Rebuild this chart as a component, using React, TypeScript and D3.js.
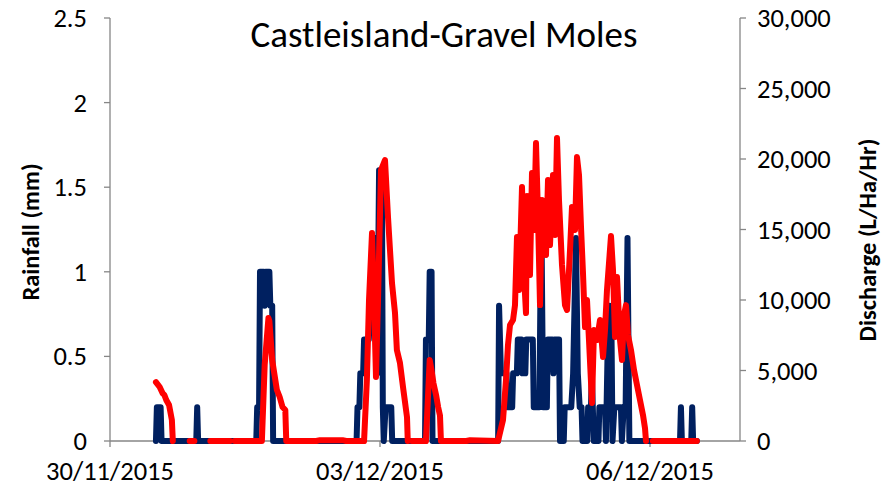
import React from 'react';
import * as d3 from 'd3';

// ---------- data ----------
const chartTitle = 'Castleisland-Gravel Moles';
const leftAxisTitle = 'Rainfall (mm)';
const rightAxisTitle = 'Discharge (L/Ha/Hr)';
const startDay = '30/11/2015';
const endDay = '07/12/2015';
const dateTickLabels = ['30/11/2015', '03/12/2015', '06/12/2015'];
const rainTicks = [0, 0.5, 1, 1.5, 2, 2.5];
const dischargeTicks = [0, 5000, 10000, 15000, 20000, 25000, 30000];

// hours after 30/11/2015 00:00
const rainHours = [
  12.25, 12.5, 13.5, 13.75, 23, 23.25, 23.5,
  39, 39.25, 39.75, 40, 41, 41.25, 41.5, 42.5, 42.75, 43.25, 43.5,
  65.75, 66, 66.5, 66.75, 67.5, 67.75, 69, 69.5, 70.75, 71.25, 71.75, 72.5, 72.75, 73, 73.5, 75, 75.25,
  84, 84.25, 85, 85.25, 85.75, 86,
  103.5, 103.75, 104.25, 105.75, 106, 107.25, 107.5, 108.5, 108.75, 109.75, 110, 110.75, 111, 112.75, 113,
  114.5, 115, 115.5, 116.5, 116.75, 118, 118.25, 118.5, 119.75, 120, 121, 121.25, 123, 123.5, 124.25,
  124.75, 125.25, 125.75, 126, 127.25, 127.5, 128.25, 128.5, 128.75, 129, 130.25, 130.5, 132, 132.25,
  132.75, 133.25, 133.75, 134, 134.5, 136.25, 136.5, 137, 137.5, 138, 138.5,
  152, 152.25, 152.5, 155, 155.25, 155.5, 156.5,
];
const rainMm = [
  0, 0.2, 0.2, 0, 0, 0.2, 0,
  0, 0.2, 0.2, 1.0, 1.0, 0.8, 1.0, 1.0, 0.8, 0.8, 0,
  0, 0.2, 0.2, 0.4, 0.4, 0.6, 0.6, 0.8, 1.2, 0.4, 1.6, 1.6, 0.2, 0, 0.2, 0.2, 0,
  0, 0.6, 0.6, 1.0, 1.0, 0,
  0, 0.8, 0.4, 0.4, 0.2, 0.2, 0.4, 0.4, 0.6, 0.6, 0.4, 0.4, 0.6, 0.6, 0.2,
  0.2, 1.4, 0.2, 0.2, 0.6, 0.6, 0.4, 0.6, 0.6, 0, 0, 0.2, 0.2, 0.4, 1.2,
  0.4, 0.2, 0.2, 0, 0, 0.2, 0.2, 0.4, 0.2, 0, 0, 0.2, 0.2, 0,
  0.6, 0.8, 0.6, 0, 0.2, 0.2, 0, 0.2, 0.2, 1.2, 0,
  0, 0.2, 0, 0, 0.2, 0, 0,
];

// null = no reading
const dischargeHours = [
  12.25, 13.25, 14, 14.5, 15, 15.75, 16.5, 16.75, 17,
  21.25, 22.5, 22.75, 26.75, 32, 32.25, 33.25,
  40.5, 41.25, 42.25, 42.5, 43.25, 44.5, 45.25, 46, 46.75, 47,
  55, 56, 62, 63, 67.75,
  68.5, 69.07, 69.87, 70.4, 70.93, 71.47, 72.27, 73.33, 74.13, 75.2, 76, 76.5, 77.33, 78.13, 79.2, 79.4, 79.75,
  80.5, 83.75, 84.25, 85.25, 85.75, 86.25, 87, 87.5, 88, 88.25,
  95, 96, 103.47,
  104.8, 105.6, 106.13, 106.67, 107.47, 108, 108.53, 109.07, 109.87, 110.4, 110.93, 111.2, 112, 112.53,
  113.07, 113.6, 114.13, 114.67, 115.2, 115.73, 116.27, 116.8, 117.33, 118.13, 118.67, 119.2, 119.73,
  120.53, 121.33, 121.87, 122.67, 123.2, 124, 124.53, 125.07, 125.6, 126.13, 126.67, 127.2, 127.73,
  128.53, 129.07, 129.87, 130.67, 131.47, 132, 132.53, 133.6, 134.13, 134.67, 135.2, 136, 136.53,
  137.07, 137.6, 138.13, 138.93, 139.73, 140.53, 141.33, 142.13, 142.67, 142.93, 143.25,
  144.75, 156.5,
];
const dischargeLHaHr = [
  4180, 3830, 3400, 3260, 2910, 2550, 1490, 0, null,
  0, 0, null, 0, 0, null, 0,
  0, 5400, 8720, 8500, 5740, 3620, 3120, 2410, 2200, 0,
  0, 60, 60, 0, 0,
  4330, 10000, 14750, 10000, 4540, 10000, 19220, 19930, 15900, 11200, 9080, 6450, 5530, 3830, 1700, 0, null,
  0, 0, 0, 5740, 5000, 4110, 3200, 2410, 1800, 0,
  0, 50, 0,
  1490, 4330, 6810, 8230, 8580, 9640, 14470, 10710, 18010, 11770, 9080, 17380, 11770, 19010,
  14960, 21130, 16030, 9640, 17090, 14960, 13190, 18510, 13900, 18860, 14610, 21490, 17090,
  12500, 9640, 9290, 13540, 16600, 14960, 20140, 18860, 15180, 11910, 8080, 10000, 7160,
  2700, 7870, 7160, 8580, 5960, 7870, 10710, 14540, 12130, 7380, 11630, 7160, 5740,
  8940, 9640, 7520, 6450, 5040, 3970, 2910, 1840, 900, 0, null,
  0, 0,
];

// ---------- layout ----------
const W = 888;
const H = 492;
const plot = { left: 110, right: 740, top: 18, bottom: 441 };
const axisColor = '#868686';
const rainColor = '#002060';
const dischargeColor = '#FF0000';
const fontFamily = 'Carlito, Calibri, Lato, sans-serif';

const parseDay = d3.timeParse('%d/%m/%Y');

export default function App() {
  const start = parseDay(startDay) as Date;
  const end = parseDay(endDay) as Date;
  const toDate = (h: number) => new Date(start.getTime() + h * 3600 * 1000);

  const x = d3.scaleTime().domain([start, end]).range([plot.left, plot.right]);
  const yRain = d3.scaleLinear().domain([0, 2.5]).range([plot.bottom, plot.top]);
  const yQ = d3.scaleLinear().domain([0, 30000]).range([plot.bottom, plot.top]);

  const rainPts = rainHours.map((h, i) => ({ t: toDate(h), v: rainMm[i] as number }));
  const qPts = dischargeHours.map((h, i) => ({ t: toDate(h), v: dischargeLHaHr[i] as number | null }));

  const rainLine = d3
    .line<{ t: Date; v: number }>()
    .x((d) => x(d.t))
    .y((d) => yRain(d.v));
  const qLine = d3
    .line<{ t: Date; v: number | null }>()
    .defined((d) => d.v != null)
    .x((d) => x(d.t))
    .y((d) => yQ(d.v as number));

  const dateTicks = dateTickLabels.map((s) => parseDay(s) as Date);
  const fmtQ = d3.format(',');

  return (
    <svg
      width={W}
      height={H}
      style={{ position: 'absolute', left: 0, top: 0, background: '#fff' }}
      fontFamily={fontFamily}
    >
      <rect x={0} y={0} width={W} height={H} fill="#fff" />
      {/* axes */}
      <g stroke={axisColor} strokeWidth={1.3} fill="none">
        <line x1={plot.left} x2={plot.left} y1={plot.top} y2={plot.bottom} />
        <line x1={plot.right} x2={plot.right} y1={plot.top} y2={plot.bottom} />
        <line x1={plot.left} x2={plot.right} y1={plot.bottom} y2={plot.bottom} />
        {rainTicks.map((t) => (
          <line key={'lt' + t} x1={plot.left - 6} x2={plot.left} y1={yRain(t)} y2={yRain(t)} />
        ))}
        {dischargeTicks.map((t) => (
          <line key={'rt' + t} x1={plot.right} x2={plot.right + 6} y1={yQ(t)} y2={yQ(t)} />
        ))}
        {dateTicks.map((d, i) => (
          <line key={'xt' + i} x1={x(d)} x2={x(d)} y1={plot.bottom} y2={plot.bottom + 6} />
        ))}
      </g>

      {/* series */}
      <path
        d={rainLine(rainPts) || ''}
        fill="none"
        stroke={rainColor}
        strokeWidth={6}
        strokeLinejoin="round"
        strokeLinecap="round"
      />
      <path
        d={qLine(qPts) || ''}
        fill="none"
        stroke={dischargeColor}
        strokeWidth={6}
        strokeLinejoin="round"
        strokeLinecap="round"
      />

      {/* tick labels */}
      <g fontSize={26.5} fill="#000">
        {rainTicks.map((t) => (
          <text key={'ll' + t} x={87} y={yRain(t) + 9} textAnchor="end">
            {String(t)}
          </text>
        ))}
        {dischargeTicks.map((t) => (
          <text key={'rl' + t} x={757} y={yQ(t) + 9} textAnchor="start">
            {fmtQ(t)}
          </text>
        ))}
        {dateTicks.map((d, i) => (
          <text key={'xl' + i} x={x(d)} y={480} textAnchor="middle">
            {dateTickLabels[i]}
          </text>
        ))}
      </g>

      {/* titles */}
      <text x={444} y={47} textAnchor="middle" fontSize={37} fill="#000">
        {chartTitle}
      </text>
      <text
        transform={`translate(39, 232) rotate(-90)`}
        textAnchor="middle"
        fontSize={24.5}
        fontWeight="bold"
        fill="#000"
      >
        {leftAxisTitle}
      </text>
      <text
        transform={`translate(876, 240) rotate(-90)`}
        textAnchor="middle"
        fontSize={24.5}
        fontWeight="bold"
        fill="#000"
      >
        {rightAxisTitle}
      </text>
    </svg>
  );
}
